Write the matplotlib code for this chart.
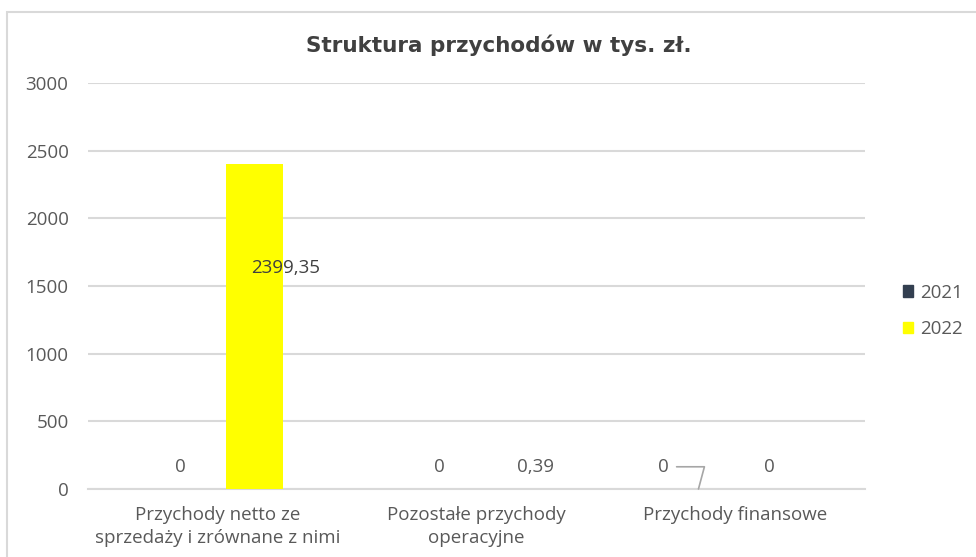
import matplotlib
matplotlib.use('Agg')
import matplotlib.pyplot as plt
from matplotlib.patches import Rectangle, Patch

categories = ['Przychody netto ze\nsprzedaży i zrównane z nimi',
              'Pozostałe przychody\noperacyjne',
              'Przychody finansowe']
years = ['2021', '2022']
vals_2021 = [0, 0, 0]
vals_2022 = [2399.35, 0.39, 0]
labels_2021 = ['0', '0', '0']
labels_2022 = ['2399,35', '0,39', '0']
yticks = [0, 500, 1000, 1500, 2000, 2500, 3000]

col2021 = '#333F50'
col2022 = '#FFFF00'
txtcol = '#595959'
gridcol = '#D9D9D9'
fs = 13.5

plt.rcParams['font.family'] = ['Open Sans', 'DejaVu Sans']

fig = plt.figure(figsize=(9.76, 5.57), dpi=100)
ax = fig.add_axes([88/976, 68/557, 777/976, 406/557])

# chart frame (clipped on right and bottom like the screenshot)
fig.patches.append(Rectangle((7/976, -0.05), 1.2, (557-12)/557 + 0.05,
                             transform=fig.transFigure, fill=False,
                             edgecolor='#D9D9D9', linewidth=1.5))

x = list(range(len(categories)))
w = 0.22
off = 0.143
x1 = [i - off for i in x]
x2 = [i + off for i in x]
ax.bar(x1, vals_2021, w, color=col2021, zorder=3)
ax.bar(x2, vals_2022, w, color=col2022, zorder=3)

ax.set_xlim(-0.5, 2.5)
ax.set_ylim(0, 3000)
ax.set_yticks(yticks)
ax.set_xticks(x)
ax.set_xticklabels(categories, fontsize=fs, color=txtcol, linespacing=1.35)
ax.tick_params(axis='y', labelsize=fs, labelcolor=txtcol, length=0, pad=14)
ax.tick_params(axis='x', length=0, pad=12)
ax.yaxis.grid(True, color=gridcol, linewidth=1.5, zorder=0)
for s in ['top', 'right', 'left']:
    ax.spines[s].set_visible(False)
ax.spines['bottom'].set_color(gridcol)
ax.spines['bottom'].set_linewidth(1.5)

# data labels
for i in range(3):
    if i == 2:
        ax.annotate(labels_2021[i], xy=(x1[i], vals_2021[i]), xytext=(-25.6, 16),
                    textcoords='offset points', ha='center', va='center',
                    fontsize=fs, color=txtcol,
                    arrowprops=dict(arrowstyle='-', color='#A6A6A6', lw=1.2,
                                    connectionstyle='angle,angleA=0,angleB=75',
                                    relpos=(1, 0.5), shrinkA=4, shrinkB=0))
    else:
        ax.annotate(labels_2021[i], xy=(x1[i], vals_2021[i]), xytext=(0, 16),
                    textcoords='offset points', ha='center', va='center',
                    fontsize=fs, color=txtcol)

ax.annotate(labels_2022[0], xy=(x2[0], vals_2022[0]), xytext=(22.7, -75),
            textcoords='offset points', ha='center', va='center',
            fontsize=fs, color='#404040', zorder=5)
ax.annotate(labels_2022[1], xy=(x2[1], vals_2022[1]), xytext=(16, 16),
            textcoords='offset points', ha='center', va='center',
            fontsize=fs, color=txtcol)
ax.annotate(labels_2022[2], xy=(x2[2], vals_2022[2]), xytext=(-2, 16),
            textcoords='offset points', ha='center', va='center',
            fontsize=fs, color=txtcol)

fig.text(499/976, 1 - 45/557, 'Struktura przychodów w tys. zł.',
         ha='center', va='center', fontsize=15.5, fontweight='bold',
         color='#404040', family=['DejaVu Sans'])

handles = [Patch(color=col2021), Patch(color=col2022)]
fig.legend(handles, years, loc='center left', bbox_to_anchor=(886/976, 1 - 311/557),
           frameon=False, fontsize=fs, labelcolor=txtcol, handlelength=0.55,
           handleheight=0.55, handletextpad=0.35, labelspacing=1.0)

fig.savefig('out.png', dpi=100)
